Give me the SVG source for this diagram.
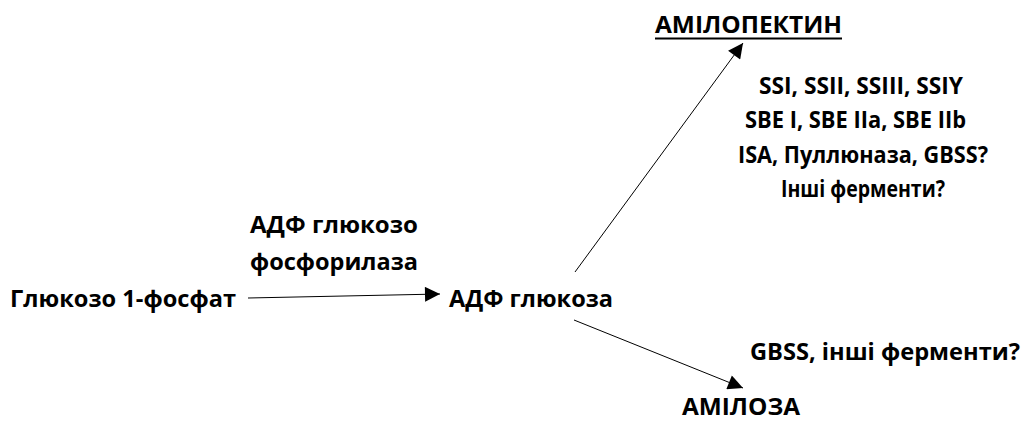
<svg xmlns="http://www.w3.org/2000/svg" width="1029" height="423" viewBox="0 0 1029 423">
<style>
text{font-family:"Open Sans","Noto Sans","DejaVu Sans",sans-serif;font-weight:bold;font-size:24px;fill:#000}
.c{stroke:#000;stroke-width:1;fill:none}
</style>
<defs>
<marker id="ah" viewBox="0 0 10 10" refX="10" refY="5" markerWidth="16" markerHeight="15" markerUnits="userSpaceOnUse" orient="auto">
<path d="M0,0 L10,5 L0,10 Z" fill="#000"/>
</marker>
</defs>
<rect width="1029" height="423" fill="#fff"/>
<g id="connectors">
<line class="c" x1="248" y1="298" x2="440" y2="294" marker-end="url(#ah)"/>
<line class="c" x1="575" y1="272" x2="743" y2="43" marker-end="url(#ah)"/>
<line class="c" x1="574" y1="320" x2="743" y2="388" marker-end="url(#ah)"/>
</g>
<g id="glucose1p"><text x="10" y="307" textLength="226" lengthAdjust="spacingAndGlyphs">Глюкозо 1-фосфат</text></g>
<g id="enzyme1">
<text x="250" y="233" textLength="168" lengthAdjust="spacingAndGlyphs">АДФ глюкозо</text>
<text x="250" y="270" textLength="168" lengthAdjust="spacingAndGlyphs">фосфорилаза</text>
</g>
<g id="adpglucose"><text x="449" y="307" textLength="164" lengthAdjust="spacingAndGlyphs">АДФ глюкоза</text></g>
<g id="amylopectin">
<text x="655" y="33" textLength="187" lengthAdjust="spacingAndGlyphs">АМІЛОПЕКТИН</text>
<line x1="655" y1="38.5" x2="842" y2="38.5" stroke="#000" stroke-width="2"/>
</g>
<g id="enzymes-amylopectin">
<text x="759" y="94" textLength="204" lengthAdjust="spacingAndGlyphs">SSI, SSII, SSIII, SSIY</text>
<text x="745" y="128" textLength="221" lengthAdjust="spacingAndGlyphs">SBE I, SBE IIa, SBE IIb</text>
<text x="738" y="163" textLength="250" lengthAdjust="spacingAndGlyphs">ISA, Пуллюназа, GBSS?</text>
<text x="781" y="197" textLength="164" lengthAdjust="spacingAndGlyphs">Інші ферменти?</text>
</g>
<g id="enzymes-amylose"><text x="750" y="360" textLength="270" lengthAdjust="spacingAndGlyphs">GBSS, інші ферменти?</text></g>
<g id="amylose"><text x="682" y="415" textLength="118" lengthAdjust="spacingAndGlyphs">АМІЛОЗА</text></g>
</svg>
